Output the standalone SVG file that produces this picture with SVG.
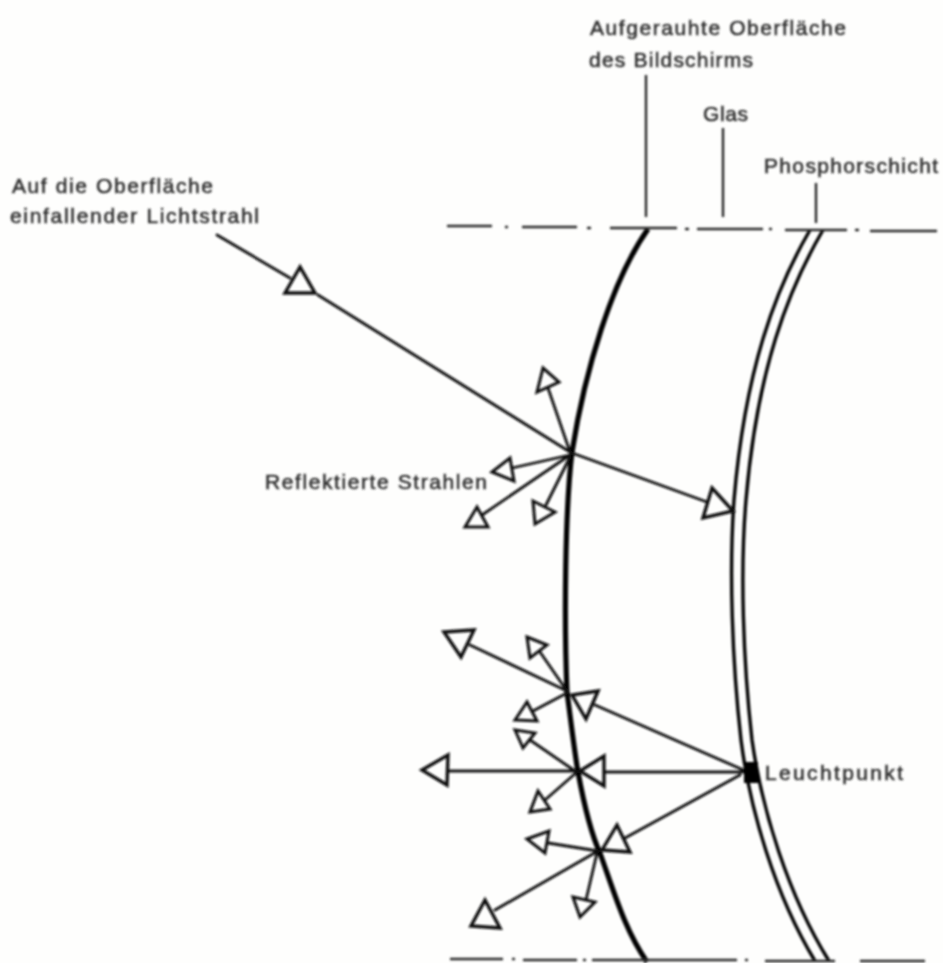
<svg xmlns="http://www.w3.org/2000/svg" width="943" height="963" viewBox="0 0 943 963">
<style>
.bg{fill:#fefefd}
.ln{fill:none;stroke:#111;stroke-width:2.8;stroke-linecap:round}
.th{fill:none;stroke:#222;stroke-width:2.4}
.tri{fill:none;stroke:#111;stroke-width:3.4;stroke-linejoin:miter}
.sm{fill:none;stroke:#111;stroke-width:3}
.lb{font-family:"Liberation Sans",Arial,sans-serif;font-size:21px;font-weight:400;fill:#2c2c2c;stroke:#2c2c2c;stroke-width:0.5}
.dash{fill:none;stroke:#2a2a2a;stroke-width:2.4}
</style>
<defs><filter id="b" x="-5%" y="-5%" width="110%" height="110%"><feGaussianBlur stdDeviation="0.8"/></filter></defs>
<rect class="bg" width="943" height="963"/>
<g filter="url(#b)">
<g id="surface-structure">
<path id="screen-surface" d="M648 229C612 280 585 370 572 452C565 510 564 620 567 692C572 730 575 755 578 772C585 810 593 838 600 853C615 895 625 930 647 962" fill="none" stroke="#000" stroke-width="5.2"/>
<path id="phosphor-inner" d="M810 230C775 290 745 370 734 500C729 570 732 660 741 740C750 810 775 895 815 961" fill="none" stroke="#000" stroke-width="3.4"/>
<path id="phosphor-outer" d="M823 230C788 290 757 370 746 500C740 570 743 660 752 740C762 810 788 895 829 961" fill="none" stroke="#000" stroke-width="3.4"/>
<g id="top-axis"><path class="dash" d="M447 226H492M505 227H508M522 227H577M587 228H591M610 228H677M685 229H689M697 229H763M769 229H772M785 230H847M855 230H859M870 231H937"/></g>
<g id="bottom-axis"><path class="dash" d="M450 959H503M512 959H515M523 960H577M583 960H586M592 960H737M745 960H748M765 961H835M860 961H925"/></g>
</g>
<g id="connectors">
<path class="th" d="M646 75V217M723 128V217M816 183V223"/>
<path class="ln" d="M217 235L290 278M318 295L570 452M548 388L570 452M512 468L570 455M482 515L570 455M546 505L570 457M572 453L707 502"/>
<path class="ln" d="M470 645L567 691M540 652L567 691M533 711L567 693M595 705L748 772M530 740L575 771M448 771H575M604 772H745M545 800L577 772M625 838L740 775M548 843L598 851M495 910L598 851M586 900L597 853"/>
</g>
<g id="arrowheads">
<path class="tri" d="M300 267L285 293H315Z"/>
<path class="sm" d="M543 368L559 382L537 392Z"/>
<path class="sm" d="M492 472L510 458L514 481Z"/>
<path class="sm" d="M477 507L465 527H488Z"/>
<path class="sm" d="M533 501L555 512L535 524Z"/>
<path class="tri" d="M712 488L733 511L703 518Z"/>
<path class="tri" d="M444 632L474 630L461 657Z"/>
<path class="sm" d="M527 637L547 645L530 658Z"/>
<path class="tri" d="M598 691L586 719L572 695Z"/>
<path class="sm" d="M515 720L537 721L527 702Z"/>
<path class="sm" d="M515 730L535 733L523 748Z"/>
<path class="tri" d="M422 770L448 755L447 785Z"/>
<path class="tri" d="M580 771L604 756V786Z"/>
<path class="sm" d="M530 812L550 809L538 791Z"/>
<path class="tri" d="M602 850L617 825L630 852Z"/>
<path class="sm" d="M527 839L549 831L545 853Z"/>
<path class="tri" d="M485 900L471 926L500 928Z"/>
<path class="sm" d="M573 897L595 902L580 917Z"/>
</g>
<g id="leuchtpunkt"><rect x="744" y="762" width="14" height="21" fill="#000"/><text class="lb" x="765" y="780" textLength="138">Leuchtpunkt</text></g>
<g id="label-oberflaeche"><text class="lb" x="590" y="35" textLength="256">Aufgerauhte Oberfläche</text><text class="lb" x="589" y="67" textLength="164">des Bildschirms</text></g>
<g id="label-glas"><text class="lb" x="703" y="121" textLength="45">Glas</text></g>
<g id="label-phosphor"><text class="lb" x="764" y="173" textLength="174">Phosphorschicht</text></g>
<g id="label-lichtstrahl"><text class="lb" x="12" y="193" textLength="201">Auf die Oberfläche</text><text class="lb" x="10" y="223" textLength="249">einfallender Lichtstrahl</text></g>
<g id="label-reflektiert"><text class="lb" x="265" y="489" textLength="222">Reflektierte Strahlen</text></g>
</g>
</svg>
